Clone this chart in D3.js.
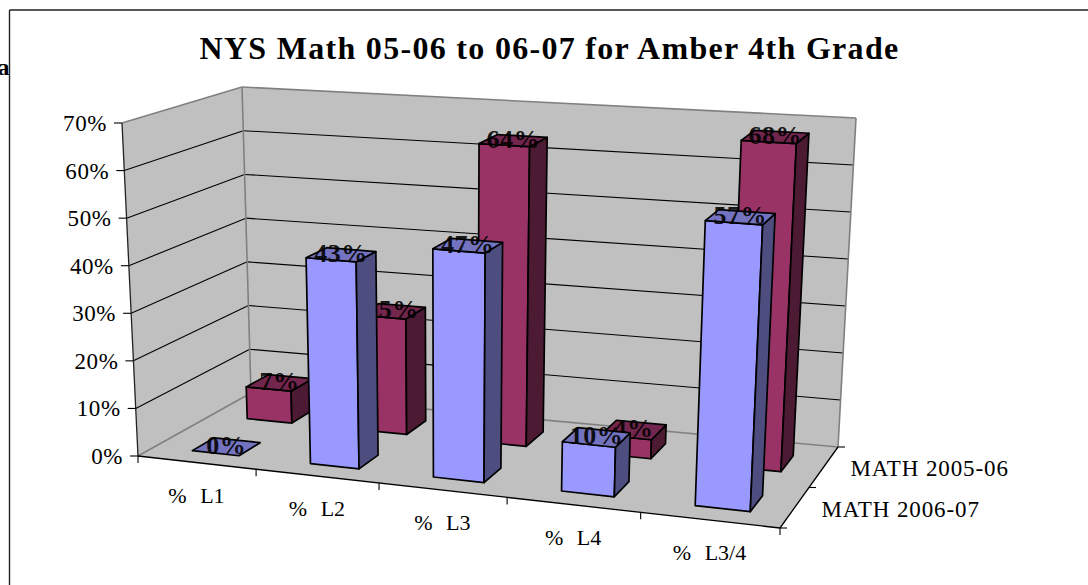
<!DOCTYPE html>
<html>
<head>
<meta charset="utf-8">
<script src="https://cdn.jsdelivr.net/npm/d3@7"></script>
<style>
  body { margin: 0; background: #fff; }
  text { font-family: "Liberation Serif", "Times New Roman", serif; fill: #000; }
</style>
</head>
<body>
<div id="wrapper"></div>
<script>
/// Data ///
const categories = ["% L1", "% L2", "% L3", "% L4", "% L3/4"];
const seriesNames = ["MATH 2006-07", "MATH 2005-06"];
const values0607 = [0, 43, 47, 10, 57];
const values0506 = [7, 25, 64, 4, 68];
const yTicks = [0, 10, 20, 30, 40, 50, 60, 70];
const title = "NYS Math 05-06 to 06-07 for Amber 4th Grade";

/// Dimensions ///
const width = 1088;
const height = 585;

const svg = d3.select("#wrapper").append("svg")
  .attr("width", width)
  .attr("height", height)
  .style("display", "block");

/// Scales ///
// bars sit a touch right of the band centres in the original
const x = d3.scaleBand().domain(categories).range([0.005, 1.005]).paddingInner(0.6).paddingOuter(0.3);
const xOuter = d3.scaleBand().domain(categories).range([0, 1]);
const z = d3.scaleBand().domain(seriesNames).range([0, 1]).paddingInner(0.6).paddingOuter(0.3);
const zOuter = d3.scaleBand().domain(seriesNames).range([0, 1]);
const y = d3.scaleLinear().domain([0, 70]).range([0, 1]);

// the eight corners of the plot box as seen on screen
const box = {
  fb0: [138, 456], fb1: [780, 528], bb0: [251, 393], bb1: [838, 447],
  ft0: [122, 123], ft1: [797, 170], bt0: [242, 87], bt1: [856, 118]
};
const mix = (a, b, t) => [a[0] + (b[0] - a[0]) * t, a[1] + (b[1] - a[1]) * t];

// the left side of the box is further away, so its categories come out narrower
const foreshorten = t => t / (t + 1.109 * (1 - t));

// u along categories, v up, w into the depth
const project = (u, v, w) => {
  const s = foreshorten(u);
  const front = mix(mix(box.fb0, box.fb1, s), mix(box.ft0, box.ft1, s), v);
  const back = mix(mix(box.bb0, box.bb1, s), mix(box.bt0, box.bt1, s), v);
  return mix(front, back, w);
};
const path = pts => "M" + pts.map(p => p.join(",")).join("L") + "Z";
const line = (g, a, b, colour, w) => g.append("line")
  .attr("x1", a[0]).attr("y1", a[1]).attr("x2", b[0]).attr("y2", b[1])
  .attr("stroke", colour).attr("stroke-width", w);

/// Outer frame ///
line(svg, [9.5, 10], [1088, 10], "#222", 1.4);
line(svg, [9.5, 10], [9.5, 585], "#222", 1.4);

svg.append("text").attr("x", -2.5).attr("y", 75)
  .attr("font-weight", "bold").attr("font-size", 24).text("a");

/// Title ///
svg.append("text")
  .attr("x", 549.5).attr("y", 59)
  .attr("text-anchor", "middle")
  .attr("font-weight", "bold").attr("font-size", 32)
  .attr("letter-spacing", 1.3)
  .text(title);

/// Walls and floor ///
const walls = svg.append("g");
const wallFill = "#c0c0c0", wallEdge = "#808080";
walls.append("path").attr("d", path([box.fb0, box.ft0, box.bt0, box.bb0]))
  .attr("fill", wallFill).attr("stroke", "none");
walls.append("path").attr("d", path([box.bb0, box.bt0, box.bt1, box.bb1]))
  .attr("fill", wallFill).attr("stroke", "none");
walls.append("path").attr("d", path([box.fb0, box.bb0, box.bb1, box.fb1]))
  .attr("fill", wallFill).attr("stroke", "none");

// gridlines on both walls
yTicks.slice(1, -1).forEach(t => {
  const v = y(t);
  line(walls, project(0, v, 0), project(0, v, 1), "#000", 1.1);
  line(walls, project(0, v, 1), project(1, v, 1), "#000", 1.1);
});

line(walls, box.ft0, box.bt0, wallEdge, 1.6);
line(walls, box.bt0, box.bt1, wallEdge, 1.6);
line(walls, box.bt1, box.bb1, wallEdge, 1.6);
line(walls, box.bt0, box.bb0, wallEdge, 1.6);
line(walls, box.fb0, box.bb0, wallEdge, 1.6);
line(walls, box.bb0, box.bb1, wallEdge, 1.6);

/// Axes ///
const axes = svg.append("g");
line(axes, box.ft0, box.fb0, "#222", 1.3);
line(axes, box.fb0, box.fb1, "#000", 1.3);
line(axes, box.fb1, box.bb1, "#000", 1.3);

// value axis
yTicks.forEach(t => {
  const p = project(0, y(t), 0);
  line(axes, p, [p[0] - 8, p[1]], "#000", 1.1);
  axes.append("text")
    .attr("x", p[0] - 15).attr("y", p[1] + 8)
    .attr("text-anchor", "end").attr("font-size", 23)
    .attr("letter-spacing", 0.6)
    .text(t + "%");
});

// category axis
d3.range(categories.length + 1).forEach(i => {
  const p = project(i / categories.length, 0, 0);
  line(axes, p, [p[0], p[1] + 7], "#000", 1.1);
});
categories.forEach(c => {
  const p = project(xOuter(c) + xOuter.bandwidth() / 2, 0, 0);
  axes.append("text")
    .attr("x", p[0]).attr("y", p[1] + 40)
    .attr("text-anchor", "middle").attr("font-size", 22)
    .attr("word-spacing", 8)
    .text(c);
});

// series axis
[0, 0.5, 1].forEach(w => {
  const p = project(1, 0, w);
  line(axes, p, [p[0] + 7, p[1]], "#000", 1.1);
});
seriesNames.forEach(s => {
  const p = project(1, 0, zOuter(s) + zOuter.bandwidth() / 2);
  axes.append("text")
    .attr("x", p[0] + 27).attr("y", p[1] + 9)
    .attr("font-size", 23)
    .attr("letter-spacing", 0.9)
    .text(s);
});

/// Bars ///
const bars = svg.append("g");
const drawBars = (name, values, colours) => {
  categories.forEach((c, i) => {
    const u0 = x(c), u1 = u0 + x.bandwidth();
    const w0 = z(name), w1 = w0 + z.bandwidth();
    const v = y(values[i]);
    const g = bars.append("g");
    const face = (pts, fill) => g.append("path").attr("d", path(pts))
      .attr("fill", fill).attr("stroke", "#000").attr("stroke-width", 1.7)
      .attr("stroke-linejoin", "round");
    if (values[i] > 0) {
      face([project(u0, 0, w0), project(u1, 0, w0), project(u1, v, w0), project(u0, v, w0)], colours.front);
      face([project(u1, 0, w0), project(u1, 0, w1), project(u1, v, w1), project(u1, v, w0)], colours.side);
    }
    face([project(u0, v, w0), project(u1, v, w0), project(u1, v, w1), project(u0, v, w1)], colours.top);
    // label sits on the top face
    const m = project((u0 + u1) / 2, v, (w0 + w1) / 2);
    g.append("text")
      .attr("x", m[0]).attr("y", m[1] + 7)
      .attr("text-anchor", "middle")
      .attr("font-weight", "bold").attr("font-size", 26)
      .attr("letter-spacing", 0.5)
      .attr("fill-opacity", 0.9)
      .text(values[i] + "%");
  });
};
// back row first so the front row covers it
drawBars(seriesNames[1], values0506, { front: "#993366", side: "#4d1a33", top: "#73264d" });
drawBars(seriesNames[0], values0607, { front: "#9999ff", side: "#4d4d80", top: "#7373bf" });
</script>
</body>
</html>
